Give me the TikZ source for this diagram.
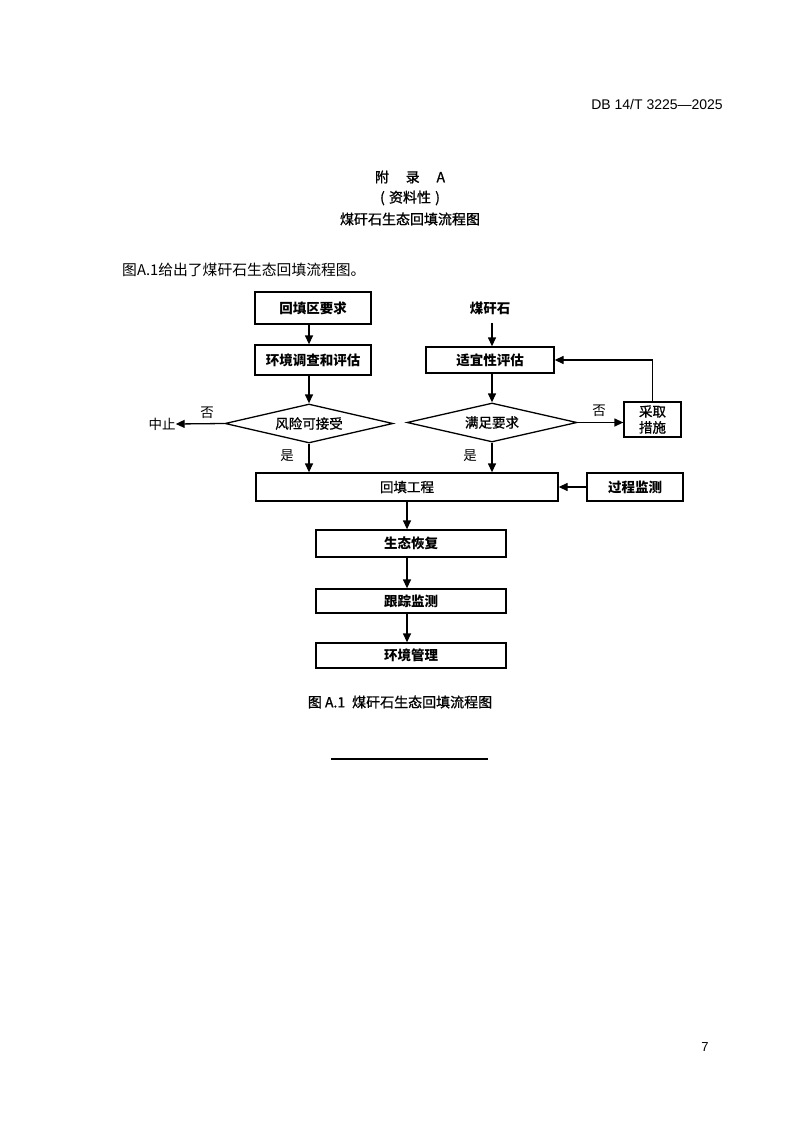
\documentclass[tikz,border=0pt]{standalone}
\usepackage{fontspec}
\setmainfont{Liberation Sans}
\newfontfamily\cjk{Noto Sans CJK SC}
\newfontfamily\cjkh{Noto Sans CJK SC}[FakeBold=1]
\usetikzlibrary{arrows.meta,shapes.geometric}
\begin{document}
\begin{tikzpicture}[x=1pt,y=-1pt,
  arr/.style={line width=1.3pt,-{Triangle[length=9pt,width=8pt]}},
  boxnode/.style={draw,line width=1.3pt,inner sep=0pt,font=\cjk\fontsize{13.5}{15}\selectfont\bfseries},
  dia/.style={draw,diamond,line width=1.3pt,inner sep=0pt,aspect=4,font=\cjkh\fontsize{13.5}{15}\selectfont},
  lab/.style={inner sep=0pt,font=\cjk\fontsize{13.5}{15}\selectfont}]
\useasboundingbox (0,0) rectangle (800,1131);
% page texts
\node[inner sep=0pt,anchor=east,font=\fontsize{14}{16}\selectfont] (hdr) at (723,104) {DB 14/T 3225—2025};
\node[inner sep=0pt,font=\cjkh\fontsize{14}{16}\selectfont] (t1) at (410,177) {附\hspace{1.2em}录\hspace{1.2em}A};
\node[inner sep=0pt,font=\cjkh\fontsize{14}{16}\selectfont] (t2) at (410,198) {(\hspace{0.3em}资料性\hspace{0.3em})};
\node[inner sep=0pt,font=\cjkh\fontsize{14}{16}\selectfont] (t3) at (410,219) {煤矸石生态回填流程图};
\node[inner sep=0pt,anchor=west,font=\cjk\fontsize{14.8}{16}\selectfont] (intro) at (122,270) {图A.1给出了煤矸石生态回填流程图。};
% left column
\node[boxnode,minimum width=116,minimum height=32] (hq) at (313,308) {回填区要求};
\node[boxnode,minimum width=116,minimum height=30] (hj) at (313,360) {环境调查和评估};
\node[dia,minimum width=168,minimum height=39] (fx) at (309,423.5) {风险可接受};
\node[lab] (zz) at (162,424) {中止};
\node[lab] (no1) at (207,413) {否};
\node[lab] (yes1) at (287,456) {是};
% right column
\node[lab] (mgs) at (490,308) {\bfseries 煤矸石};
\node[boxnode,minimum width=128,minimum height=26] (sy) at (490,360) {适宜性评估};
\node[dia,minimum width=170,minimum height=39] (mz) at (492,422.5) {满足要求};
\node[lab] (no2) at (599,411) {否};
\node[boxnode,minimum width=57,minimum height=35,align=center,font=\cjkh\fontsize{13.5}{16}\selectfont] (cq) at (652.5,419.5) {采取\\措施};
\node[lab] (yes2) at (470,456) {是};
% bottom
\node[boxnode,minimum width=302,minimum height=28,font=\cjkh\fontsize{13.5}{15}\selectfont] (ht) at (407,487) {回填工程};
\node[boxnode,minimum width=96,minimum height=28] (gc) at (635,487) {过程监测};
\node[boxnode,minimum width=190,minimum height=27] (st) at (411,543.5) {生态恢复};
\node[boxnode,minimum width=190,minimum height=24] (gz) at (411,601) {跟踪监测};
\node[boxnode,minimum width=190,minimum height=25] (hg) at (411,655.5) {环境管理};
% caption
\node[inner sep=0pt,font=\cjkh\fontsize{14}{16}\selectfont] (cap) at (400,702) {图 A.1\hspace{0.5em}煤矸石生态回填流程图};
\coordinate (r1) at (331,759);
\coordinate (r2) at (488,759);
\draw[line width=1.3pt] (r1) -- (r2);
\node[inner sep=0pt,font=\fontsize{13}{15}\selectfont\rmfamily] (pg) at (705,1047) {7};
% connectors
\draw[arr] (hq.south -| fx.north) -- (hj.north -| fx.north);
\draw[arr] (hj.south -| fx.north) -- (fx.north);
\draw[arr] (fx.west) -- (zz.east);
\draw[arr] (fx.south) -- (ht.north -| fx.south);
\draw[arr] (mgs.south -| mz.north) ++(0,8) -- (sy.north -| mz.north);
\draw[arr] (sy.south -| mz.north) -- (mz.north);
\draw[arr] (mz.east) -- (cq.west |- mz.east);
\draw[arr] (cq.north) |- (sy.east);
\draw[arr] (mz.south) -- (ht.north -| mz.south);
\draw[arr] (gc.west) -- (ht.east);
\draw[arr] (ht.south) -- (st.north -| ht.south);
\draw[arr] (st.south -| ht.south) -- (gz.north -| ht.south);
\draw[arr] (gz.south -| ht.south) -- (hg.north -| ht.south);
\end{tikzpicture}
\end{document}
